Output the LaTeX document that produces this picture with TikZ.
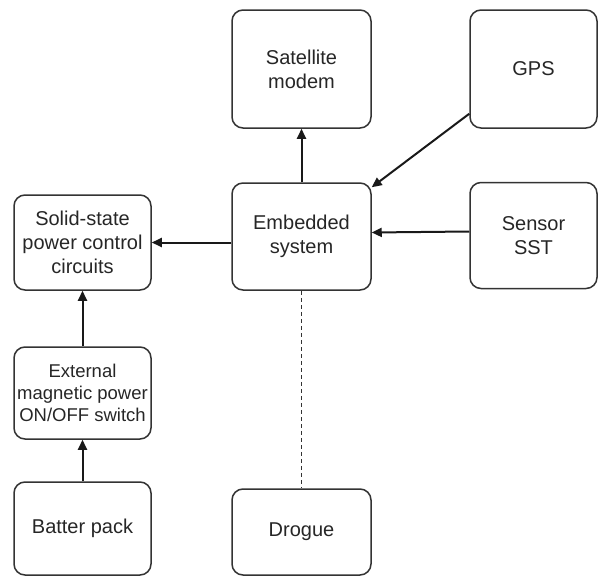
\documentclass[tikz,border=0pt]{standalone}
\usepackage{fontspec}
\setmainfont{Liberation Sans}
\usetikzlibrary{arrows.meta}
\begin{document}
\begin{tikzpicture}[x=1pt,y=-1pt,
  box/.style={draw=black!80, line width=1.5pt, rounded corners=11pt, align=center,
    text=black!85, font=\fontsize{20}{24}\selectfont, inner sep=0pt},
  arr/.style={-{Triangle[length=10pt,width=9pt]}, line width=2pt, draw=black!90},
  dsh/.style={line width=1.4pt, dash pattern=on 4pt off 3pt, draw=black!80}]
\useasboundingbox (0,0) rectangle (598,576);
\node[box, minimum width=139pt, minimum height=118pt] (sat) at (301.5,69) {Satellite\\modem};
\node[box, minimum width=127pt, minimum height=118pt] (gps) at (533.5,69) {GPS};
\node[box, minimum width=139pt, minimum height=107pt] (emb) at (301.5,236.5) {Embedded\\system};
\node[box, minimum width=127pt, minimum height=106pt] (sen) at (533.5,235.5) {Sensor\\SST};
\node[box, minimum width=137pt, minimum height=95pt] (sol) at (82.5,242.5) {Solid-state\\power control\\circuits};
\node[box, minimum width=137pt, minimum height=92pt, font=\fontsize{18.5}{22}\selectfont] (ext) at (82.5,393) {External\\magnetic power\\ON/OFF switch};
\node[box, minimum width=137pt, minimum height=93pt] (bat) at (82.5,528.5) {Batter pack};
\node[box, minimum width=139pt, minimum height=86pt] (dro) at (301.5,532) {Drogue};
\draw[arr] (emb.north) -- (sat.south);
\draw[arr] ([yshift=15pt]gps.south west) -- ([yshift=-5pt]emb.north east);
\draw[arr] ([yshift=4pt]sen.west) -- ([yshift=4pt]emb.east);
\draw[arr] (emb.west |- sol.east) -- (sol.east);
\draw[arr] (ext.north) -- (sol.south);
\draw[arr] (bat.north) -- (ext.south);
\draw[dsh] (emb.south) -- (dro.north);
\end{tikzpicture}
\end{document}
